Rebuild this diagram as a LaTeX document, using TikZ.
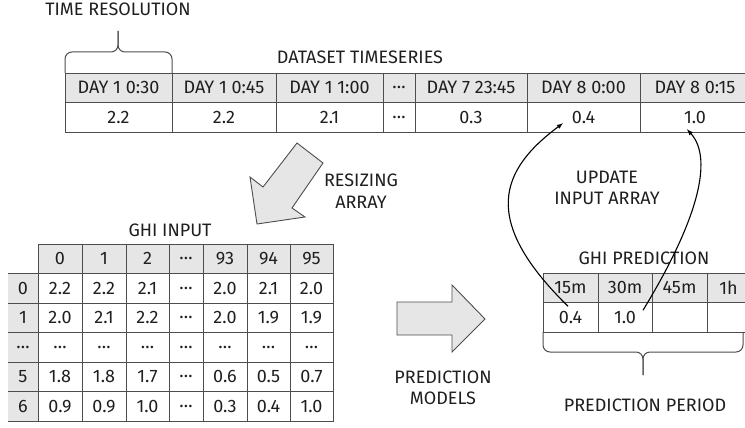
\documentclass[tikz,border=0pt]{standalone}
\usepackage{fontspec}
\setmainfont{Fira Sans}
\usepackage{tikz}
\usetikzlibrary{positioning,arrows}
\definecolor{linegray}{HTML}{4D4D4D}
\definecolor{cellgray}{HTML}{E6E6E6}
\definecolor{txt}{HTML}{1F1F1F}

\begin{document}
\begin{tikzpicture}[
          x=1pt, y=-1pt,
          node distance=0pt,
          font=\fontsize{18}{21.5}\selectfont, text=txt,
          tline/.style={draw=linegray,line width=0.9pt},
          cell/.style={draw=linegray,line width=0.9pt,inner sep=0pt,outer sep=0pt,minimum height=29.5pt},
          cl/.style={cell,minimum width=#1},
          hd/.style={cell,fill=cellgray,minimum width=#1},
          lab/.style={cell,draw=none,fill=cellgray,minimum width=30pt,
            append after command={(\tikzlastnode.north west) edge[tline] (\tikzlastnode.north east)
              (\tikzlastnode.south west) edge[tline] (\tikzlastnode.south east)}},
          lbl/.style={align=center,inner sep=0pt},
          brc/.style={draw=linegray,line width=1pt,rounded corners=7pt},
          blockarrow/.style={draw=linegray,fill=cellgray,line width=0.9pt,line join=miter},
          link/.style={-latex,line width=1.1pt,draw=black}
            ]
            \path[use as bounding box] (0,0) rectangle (745,428);
            \clip (0,0) rectangle (745,428);
            % dataset timeseries
            \node[hd=107pt,anchor=north west] (t1) at (65,73) {DAY 1 0:30};
            \node[hd=104pt,right=of t1] (t2) {DAY 1 0:45};
            \node[hd=107pt,right=of t2] (t3) {DAY 1 1:00};
            \node[hd=32pt,right=of t3] (t4) {…};
            \node[hd=112pt,right=of t4] (t5) {DAY 7 23:45};
            \node[hd=113pt,right=of t5] (t6) {DAY 8 0:00};
            \node[hd=110pt,right=of t6] (t7) {DAY 8 0:15};
            \node[cl=107pt,below=of t1] (v1) {2.2};
            \node[cl=104pt,below=of t2] (v2) {2.2};
            \node[cl=107pt,below=of t3] (v3) {2.1};
            \node[cl=32pt,below=of t4] (v4) {…};
            \node[cl=112pt,below=of t5] (v5) {0.3};
            \node[cl=113pt,below=of t6] (v6) {0.4};
            \node[cl=110pt,below=of t7] (v7) {1.0};
            % ghi input
            \node[hd=44pt,anchor=north west] (c01) at (38,244) {0};
            \node[hd=44pt,right=of c01] (c02) {1};
            \node[hd=43pt,right=of c02] (c03) {2};
            \node[hd=34pt,right=of c03] (c04) {…};
            \node[hd=44pt,right=of c04] (c05) {93};
            \node[hd=43pt,right=of c05] (c06) {94};
            \node[hd=43pt,right=of c06] (c07) {95};
            \node[lab,below left=of c01] (r1) {0};
            \node[cl=44pt,right=of r1] (c11) {2.2};
            \node[cl=44pt,right=of c11] (c12) {2.2};
            \node[cl=43pt,right=of c12] (c13) {2.1};
            \node[cl=34pt,right=of c13] (c14) {…};
            \node[cl=44pt,right=of c14] (c15) {2.0};
            \node[cl=43pt,right=of c15] (c16) {2.1};
            \node[cl=43pt,right=of c16] (c17) {2.0};
            \node[lab,below=of r1] (r2) {1};
            \node[cl=44pt,right=of r2] (c21) {2.0};
            \node[cl=44pt,right=of c21] (c22) {2.1};
            \node[cl=43pt,right=of c22] (c23) {2.2};
            \node[cl=34pt,right=of c23] (c24) {…};
            \node[cl=44pt,right=of c24] (c25) {2.0};
            \node[cl=43pt,right=of c25] (c26) {1.9};
            \node[cl=43pt,right=of c26] (c27) {1.9};
            \node[lab,below=of r2] (r3) {…};
            \node[cl=44pt,right=of r3] (c31) {…};
            \node[cl=44pt,right=of c31] (c32) {…};
            \node[cl=43pt,right=of c32] (c33) {…};
            \node[cl=34pt,right=of c33] (c34) {…};
            \node[cl=44pt,right=of c34] (c35) {…};
            \node[cl=43pt,right=of c35] (c36) {…};
            \node[cl=43pt,right=of c36] (c37) {…};
            \node[lab,below=of r3] (r4) {5};
            \node[cl=44pt,right=of r4] (c41) {1.8};
            \node[cl=44pt,right=of c41] (c42) {1.8};
            \node[cl=43pt,right=of c42] (c43) {1.7};
            \node[cl=34pt,right=of c43] (c44) {…};
            \node[cl=44pt,right=of c44] (c45) {0.6};
            \node[cl=43pt,right=of c45] (c46) {0.5};
            \node[cl=43pt,right=of c46] (c47) {0.7};
            \node[lab,below=of r4] (r5) {6};
            \node[cl=44pt,right=of r5] (c51) {0.9};
            \node[cl=44pt,right=of c51] (c52) {0.9};
            \node[cl=43pt,right=of c52] (c53) {1.0};
            \node[cl=34pt,right=of c53] (c54) {…};
            \node[cl=44pt,right=of c54] (c55) {0.3};
            \node[cl=43pt,right=of c55] (c56) {0.4};
            \node[cl=43pt,right=of c56] (c57) {1.0};
            % ghi prediction
            \node[hd=55pt,anchor=north west] (q1) at (543,273) {15m};
            \node[hd=54pt,right=of q1] (q2) {30m};
            \node[hd=55pt,right=of q2] (q3) {45m};
            \node[hd=43pt,right=of q3] (q4) {1h};
            \node[cl=55pt,below=of q1] (p1) {0.4};
            \node[cl=54pt,below=of q2] (p2) {1.0};
            \node[cl=55pt,below=of q3] (p3) {};
            \node[cl=43pt,below=of q4] (p4) {};
            % labels
            \node[lbl] (timeres) at (118,9) {TIME RESOLUTION};
            \node[lbl] (dataset) at (360,57) {DATASET TIMESERIES};
            \node[lbl] (resize) at (361,191) {RESIZING\\ARRAY};
            \node[lbl] (ghiin) at (170,230) {GHI INPUT};
            \node[lbl] (update) at (607,188) {UPDATE\\INPUT ARRAY};
            \node[lbl] (ghipred) at (644,258) {GHI PREDICTION};
            \node[lbl] (predmod) at (443,388) {PREDICTION\\MODELS};
            \node[lbl] (predper) at (645,405) {PREDICTION PERIOD};
            % braces
            \coordinate (trtip) at (118,31);
            \draw[brc] (t1.north west) -- ++(0,-21) -| (trtip);
            \draw[brc] (t1.north east) -- ++(0,-21) -| (trtip);
            \coordinate (ppr) at (743,332);
            \coordinate (pptip) at (643,375);
            \draw[brc] (p1.south west) -- ++(0,20) -| (pptip);
            \draw[brc] (ppr) -- ++(0,20) -| (pptip);
            % block arrows
            \draw[blockarrow] (297,143) -- (323,163) -- (292,208) -- (305,217)
              -- (257,224) -- (250,177) -- (263,187) -- cycle;
            \draw[blockarrow] (397,302) -- (452,302) -- (452,285) -- (485,319)
              -- (452,352) -- (452,335) -- (397,335) -- cycle;
            % update input array
            \draw[link] ([xshift=-2.5pt,yshift=11pt]p1.center) .. controls (480,220) and (500,170) .. ([xshift=-20.5pt,yshift=-6pt]v6.center);
            \draw[link] ([xshift=18pt,yshift=7pt]p2.center) .. controls (695,225) and (715,160) .. ([xshift=-8pt,yshift=-12pt]v7.center);
            \end{tikzpicture}
\end{document}
